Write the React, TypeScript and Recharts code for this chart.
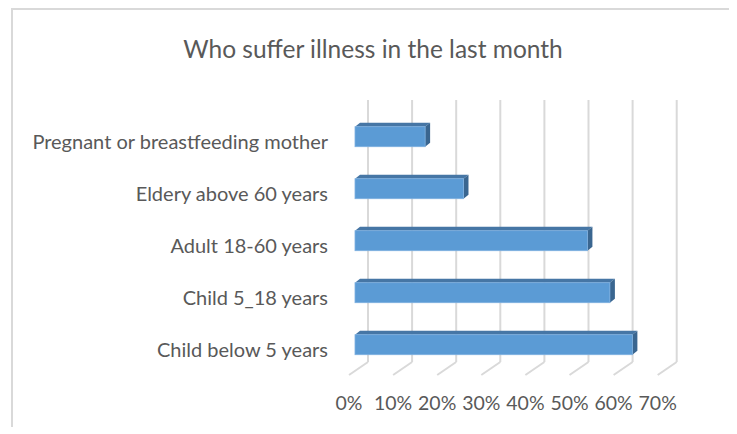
import React from 'react';
import { BarChart, Bar, XAxis, YAxis, CartesianGrid } from 'recharts';

const categories = [
  'Pregnant or breastfeeding mother',
  'Eldery above 60 years',
  'Adult 18-60 years',
  'Child 5_18 years',
  'Child below 5 years',
];
const values = [0.159, 0.246, 0.527, 0.578, 0.629];
const xTicks = [0, 0.1, 0.2, 0.3, 0.4, 0.5, 0.6, 0.7];
const title = 'Who suffer illness in the last month';

const data = categories.map((c, i) => ({ name: c, value: values[i] }));

const FONT = 'Lato, "Open Sans", sans-serif';
const TEXT = '#595959';
const GRID = '#d9d9d9';

const fmt = (v: number) => `${Math.round(v * 100)}%`;

const Bar3D = (props: any) => {
  const { x, y, width, height } = props;
  if (width == null || height == null) return null;
  const dx = 5;
  const dy = 4;
  return (
    <g>
      <polygon
        points={`${x},${y} ${x + dx},${y - dy} ${x + width + dx},${y - dy} ${x + width},${y}`}
        fill="#4676a5"
      />
      <polygon
        points={`${x + width},${y} ${x + width + dx},${y - dy} ${x + width + dx},${y + height - dy} ${x + width},${y + height}`}
        fill="#3a6690"
      />
      <rect x={x} y={y} width={width} height={height} fill="#5b9bd5" stroke="#7eb0e0" strokeWidth={0.8} />
    </g>
  );
};

const gridLine = (props: any) => {
  const { x1, y1, y2, index } = props;
  const bx = x1 + 13;
  const top = y1 - 10.7;
  const bottom = y2 - 8.7;
  return (
    <g key={`g-${index}-${x1}`}>
      <line x1={bx} y1={top} x2={bx} y2={bottom} stroke={GRID} strokeWidth={2} />
      <line x1={bx} y1={bottom} x2={x1 - 6} y2={y2 + 4.3} stroke={GRID} strokeWidth={2} />
    </g>
  );
};

const XTick = (props: any) => {
  const { x, y, payload } = props;
  return (
    <text x={x - 6} y={y + 32} dy="0.35em" textAnchor="middle" fill={TEXT} fontFamily={FONT} fontSize={19.5}>
      {fmt(payload.value)}
    </text>
  );
};

const YTick = (props: any) => {
  const { x, y, payload } = props;
  return (
    <text x={x} y={y + 5} dy="0.35em" textAnchor="end" fill={TEXT} fontFamily={FONT} fontSize={20}>
      {payload.value}
    </text>
  );
};

export default function App() {
  return (
    <div
      style={{
        position: 'relative',
        marginLeft: 3,
        width: 720,
        height: 417,
        borderTop: `2px solid ${GRID}`,
        borderLeft: `2px solid ${GRID}`,
        borderRight: `2px solid ${GRID}`,
        background: '#fff',
      }}
    >
      <div
        style={{
          position: 'absolute',
          left: 0,
          top: 24,
          width: 720,
          textAlign: 'center',
          fontFamily: FONT,
          fontSize: 24.5,
          color: TEXT,
          lineHeight: '30px',
        }}
      >
        {title}
      </div>
      <div style={{ position: 'absolute', left: -2, top: -2 }}>
        <BarChart
          width={722}
          height={418}
          data={data}
          layout="vertical"
          margin={{ top: 102.7, right: 69.3, bottom: 25.3, left: 14 }}
        >
          <CartesianGrid horizontal={false} vertical={gridLine} />
          <XAxis
            type="number"
            domain={[0, 0.7]}
            ticks={xTicks}
            axisLine={false}
            tickLine={false}
            tickSize={0}
            tickMargin={0}
            height={30}
            interval={0}
            tick={<XTick />}
          />
          <YAxis
            type="category"
            dataKey="name"
            width={330}
            axisLine={false}
            tickLine={false}
            tickSize={0}
            tickMargin={27}
            interval={0}
            tick={<YTick />}
          />
          <Bar dataKey="value" barSize={20} shape={<Bar3D />} isAnimationActive={false} />
        </BarChart>
      </div>
    </div>
  );
}
